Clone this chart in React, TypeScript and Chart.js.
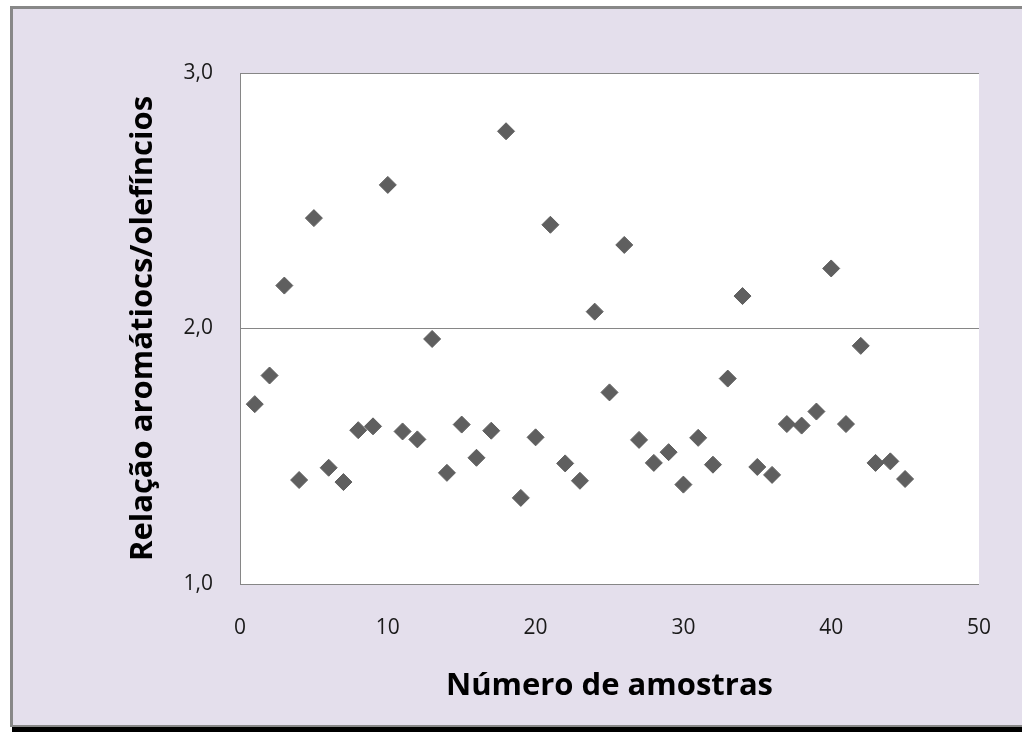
import React, { useEffect, useRef } from "react";
import { Chart, registerables } from "chart.js";

Chart.register(...registerables);

const sampleNumbers = [
  1, 2, 3, 4, 5, 6, 7, 8, 9, 10, 11, 12, 13, 14, 15, 16, 17, 18, 19, 20, 21, 22, 23,
  24, 25, 26, 27, 28, 29, 30, 31, 32, 33, 34, 35, 36, 37, 38, 39, 40, 41, 42, 43, 44, 45,
];
const ratioValues = [
  1.704, 1.816, 2.168, 1.407, 2.432, 1.455, 1.399, 1.602, 1.617, 2.562, 1.597, 1.566,
  1.959, 1.435, 1.624, 1.494, 1.600, 2.772, 1.337, 1.574, 2.406, 1.472, 1.404, 2.066,
  1.750, 2.327, 1.564, 1.474, 1.516, 1.389, 1.572, 1.467, 1.804, 2.127, 1.458, 1.427,
  1.626, 1.620, 1.675, 2.235, 1.626, 1.932, 1.474, 1.480, 1.411,
];
const xTickValues = [0, 10, 20, 30, 40, 50];
const yTickValues = [1, 2, 3];

const xTitle = "Número de amostras";
const yTitle = "Relação aromátiocs/olefíncios";

const FONT = "'Open Sans', 'Noto Sans', sans-serif";

const plotBackground = {
  id: "plotBackground",
  beforeDraw(chart: any) {
    const { ctx, chartArea } = chart;
    ctx.save();
    ctx.fillStyle = "#FFFFFF";
    ctx.fillRect(chartArea.left, chartArea.top, chartArea.right - chartArea.left, chartArea.bottom - chartArea.top);
    ctx.restore();
  },
};

export default function App() {
  const ref = useRef<HTMLCanvasElement>(null);

  useEffect(() => {
    if (!ref.current) return;
    const chart = new Chart(ref.current, {
      type: "scatter",
      data: {
        datasets: [
          {
            data: sampleNumbers.map((x, i) => ({ x, y: ratioValues[i] })),
            pointStyle: "rectRot",
            pointRadius: 8.5,
            pointHoverRadius: 8.5,
            backgroundColor: "#5F5F5F",
            borderColor: "#5F5F5F",
            borderWidth: 1,
          },
        ],
      },
      options: {
        responsive: false,
        animation: false,
        devicePixelRatio: 1,
        layout: { padding: { left: 125, top: 73, right: 39, bottom: 27 } },
        plugins: { legend: { display: false }, tooltip: { enabled: false } },
        scales: {
          x: {
            type: "linear",
            min: 0,
            max: 50,
            afterBuildTicks: (s: any) => {
              s.ticks = xTickValues.map((v) => ({ value: v }));
            },
            afterFit: (s: any) => {
              s.height = 121;
            },
            grid: { display: false, drawTicks: false },
            border: { display: true, color: "#868686", width: 1 },
            ticks: {
              padding: 31,
              color: "#1A1A1A",
              font: { family: FONT, size: 21 },
              maxRotation: 0,
              callback: (v: any) => String(v),
            },
            title: {
              display: true,
              text: xTitle,
              color: "#000000",
              font: { family: FONT, size: 31, weight: "bold" },
              padding: { top: 0, bottom: 0 },
            },
          },
          y: {
            type: "linear",
            min: 1,
            max: 3,
            afterBuildTicks: (s: any) => {
              s.ticks = yTickValues.map((v) => ({ value: v }));
            },
            afterFit: (s: any) => {
              s.width = 240 - 125;
            },
            grid: { display: true, drawTicks: false, color: "#868686", lineWidth: 1 },
            border: { display: true, color: "#868686", width: 1 },
            ticks: {
              padding: 27,
              color: "#1A1A1A",
              font: { family: FONT, size: 21 },
              callback: (v: any) => Number(v).toFixed(1).replace(".", ","),
            },
            title: {
              display: true,
              text: yTitle,
              color: "#000000",
              font: { family: FONT, size: 31, weight: "bold" },
              padding: { top: 0, bottom: 0 },
            },
          },
        },
      },
      plugins: [plotBackground],
    });
    return () => chart.destroy();
  }, []);

  return (
    <div style={{ position: "fixed", left: 0, top: 0, width: 1022, height: 732, background: "#FFFFFF", overflow: "hidden" }}>
      <div
        style={{
          position: "absolute",
          left: 10,
          top: 6,
          width: 1012,
          height: 721,
          boxSizing: "border-box",
          background: "#E4DFEC",
          borderLeft: "3px solid #888888",
          borderTop: "3px solid #888888",
          borderBottom: "2px solid #888888",
        }}
      />
      <div style={{ position: "absolute", left: 12, top: 727, width: 1010, height: 5, background: "#000000" }} />
      <canvas ref={ref} width={1022} height={732} style={{ position: "absolute", left: 0, top: 0, width: 1022, height: 732 }} />
    </div>
  );
}
